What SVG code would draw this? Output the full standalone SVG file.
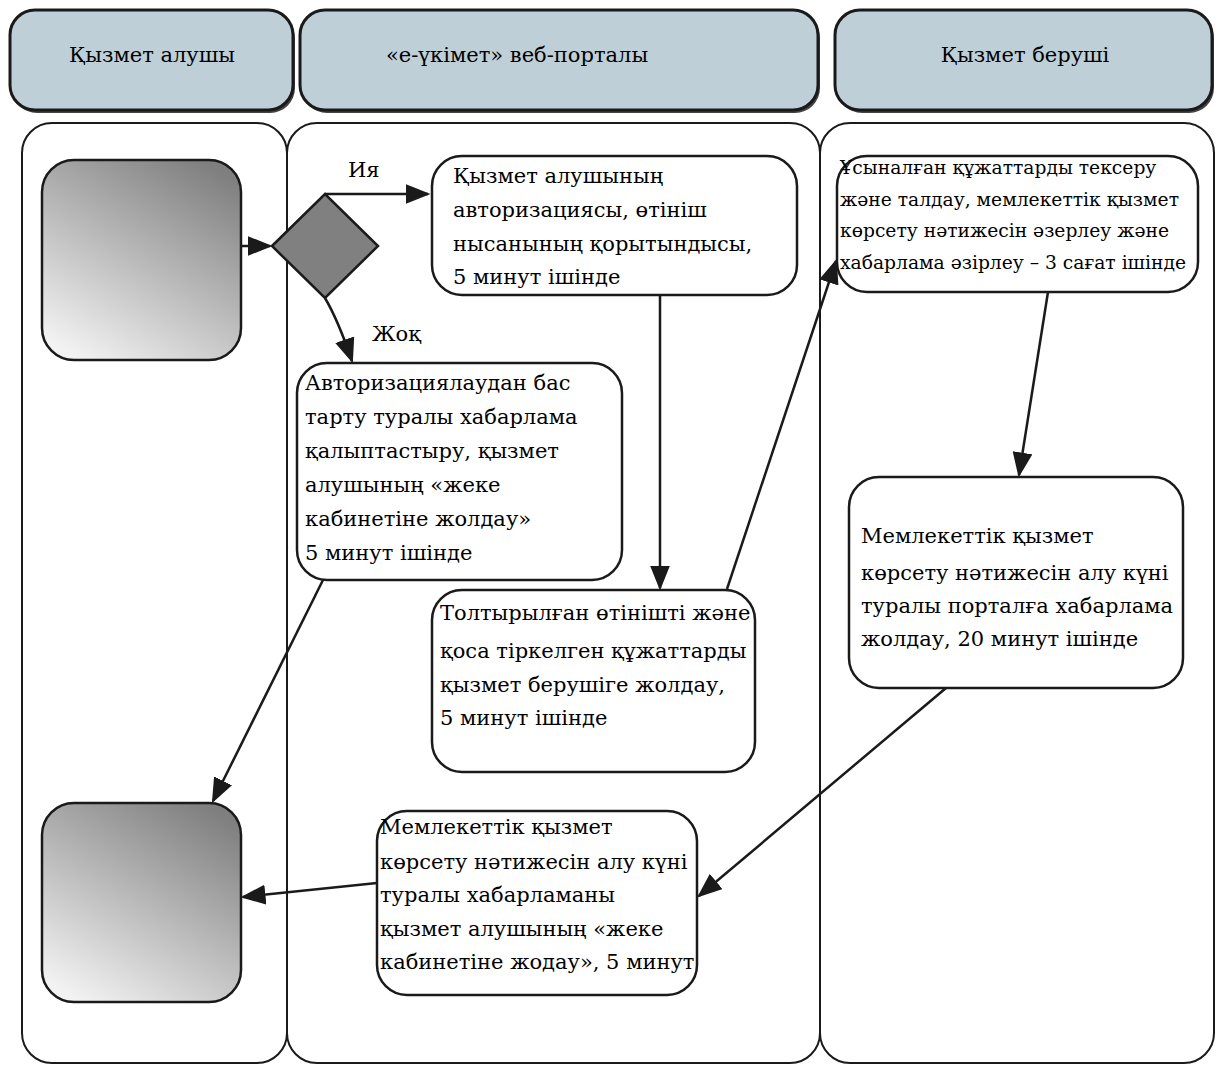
<svg xmlns="http://www.w3.org/2000/svg" width="1216" height="1066" viewBox="0 0 1216 1066">
<style>
.hdr{fill:#bfcfd8;stroke:#1a1a1a;stroke-width:3}
.hshadow{fill:#444}
.lane{fill:#fff;stroke:#1a1a1a;stroke-width:2}
.box{fill:#fff;stroke:#1a1a1a;stroke-width:2.5}
.gbox{fill:url(#g);stroke:#1a1a1a;stroke-width:2.5}
.ht{font-family:"DejaVu Serif",serif;font-size:21px;fill:#000;text-anchor:middle}
.t{font-family:"DejaVu Serif",serif;font-size:21px;fill:#000}
.ts{font-family:"DejaVu Serif",serif;font-size:18.7px;fill:#000}
.c{fill:none;stroke:#1a1a1a;stroke-width:2.5;marker-end:url(#a)}
</style>
<defs>
<linearGradient id="g" x1="0.8" y1="0" x2="0.2" y2="1">
<stop offset="0" stop-color="#7f7f7f"/>
<stop offset="1" stop-color="#f2f2f2"/>
</linearGradient>
<marker id="a" markerWidth="10" markerHeight="8" refX="9" refY="4" orient="auto" markerUnits="strokeWidth">
<path d="M0,0 L10,4 L0,8 Z" fill="#1a1a1a"/>
</marker>
</defs>
<g id="headers">
<g id="h1"><rect class="hshadow" x="12" y="13" width="283" height="100" rx="25"/><rect class="hdr" x="10" y="10" width="283" height="100" rx="25"/><text class="ht" x="152" y="62">Қызмет алушы</text></g>
<g id="h2"><rect class="hshadow" x="302" y="13" width="518" height="100" rx="25"/><rect class="hdr" x="300" y="10" width="518" height="100" rx="25"/><text class="ht" x="517" y="62">«е-үкімет» веб-порталы</text></g>
<g id="h3"><rect class="hshadow" x="837" y="13" width="377" height="100" rx="25"/><rect class="hdr" x="835" y="10" width="377" height="100" rx="25"/><text class="ht" x="1025" y="62">Қызмет беруші</text></g>
</g>
<g id="lanes">
<rect class="lane" x="22" y="123" width="265" height="940" rx="30"/>
<rect class="lane" x="287" y="123" width="533" height="940" rx="30"/>
<rect class="lane" x="820" y="123" width="394" height="940" rx="30"/>
</g>
<g id="start"><rect class="gbox" x="42" y="160" width="199" height="200" rx="32"/></g>
<g id="end"><rect class="gbox" x="42" y="803" width="199" height="199" rx="32"/></g>
<g id="decision"><polygon points="272,246 325,194 378,246 325,298" fill="#808080" stroke="#1a1a1a" stroke-width="2.5"/></g>
<g id="boxA"><rect class="box" x="432" y="156" width="365" height="139" rx="30"/>
<text class="t"><tspan x="453" y="183">Қызмет алушының</tspan><tspan x="453" y="217">авторизациясы, өтініш</tspan><tspan x="453" y="251">нысанының қорытындысы,</tspan><tspan x="453" y="284">5 минут ішінде</tspan></text></g>
<g id="boxB"><rect class="box" x="297" y="363" width="325" height="217" rx="30"/>
<text class="t"><tspan x="305" y="390">Авторизациялаудан бас</tspan><tspan x="305" y="424">тарту туралы хабарлама</tspan><tspan x="305" y="458">қалыптастыру, қызмет</tspan><tspan x="305" y="492">алушының «жеке</tspan><tspan x="305" y="526">кабинетіне жолдау»</tspan><tspan x="305" y="560">5 минут ішінде</tspan></text></g>
<g id="boxC"><rect class="box" x="432" y="590" width="323" height="182" rx="30"/>
<text class="t"><tspan x="440" y="620">Толтырылған өтінішті және</tspan><tspan x="440" y="658">қоса тіркелген құжаттарды</tspan><tspan x="440" y="692">қызмет берушіге жолдау,</tspan><tspan x="440" y="725">5 минут ішінде</tspan></text></g>
<g id="boxD"><rect class="box" x="837" y="156" width="361" height="136" rx="30"/>
<text class="ts"><tspan x="840" y="174">Ұсыналған құжаттарды тексеру</tspan><tspan x="840" y="206">және талдау, мемлекеттік қызмет</tspan><tspan x="840" y="237">көрсету нәтижесін әзерлеу және</tspan><tspan x="840" y="269">хабарлама әзірлеу – 3 сағат ішінде</tspan></text></g>
<g id="boxE"><rect class="box" x="849" y="477" width="334" height="211" rx="30"/>
<text class="t"><tspan x="861" y="543">Мемлекеттік қызмет</tspan><tspan x="861" y="580">көрсету нәтижесін алу күні</tspan><tspan x="861" y="613">туралы порталға хабарлама</tspan><tspan x="861" y="646">жолдау, 20 минут ішінде</tspan></text></g>
<g id="boxF"><rect class="box" x="377" y="811" width="320" height="184" rx="30"/>
<text class="t"><tspan x="380" y="834">Мемлекеттік қызмет</tspan><tspan x="380" y="869">көрсету нәтижесін алу күні</tspan><tspan x="380" y="902">туралы хабарламаны</tspan><tspan x="380" y="936">қызмет алушының «жеке</tspan><tspan x="380" y="969">кабинетіне жодау», 5 минут</tspan></text></g>
<g id="connectors">
<line class="c" x1="241" y1="246" x2="270" y2="246"/>
<polyline class="c" points="325,194 428,194"/>
<text class="t" x="348" y="177">Ия</text>
<path class="c" d="M325,298 Q338,320 352,361"/>
<text class="t" x="372" y="341">Жоқ</text>
<line class="c" x1="660" y1="295" x2="660" y2="588"/>
<line class="c" x1="727" y1="589" x2="836" y2="261"/>
<line class="c" x1="1048" y1="292" x2="1019" y2="475"/>
<line class="c" x1="946" y1="688" x2="699" y2="896"/>
<line class="c" x1="377" y1="883" x2="243" y2="897"/>
<line class="c" x1="323" y1="580" x2="213" y2="801"/>
</g>
</svg>
